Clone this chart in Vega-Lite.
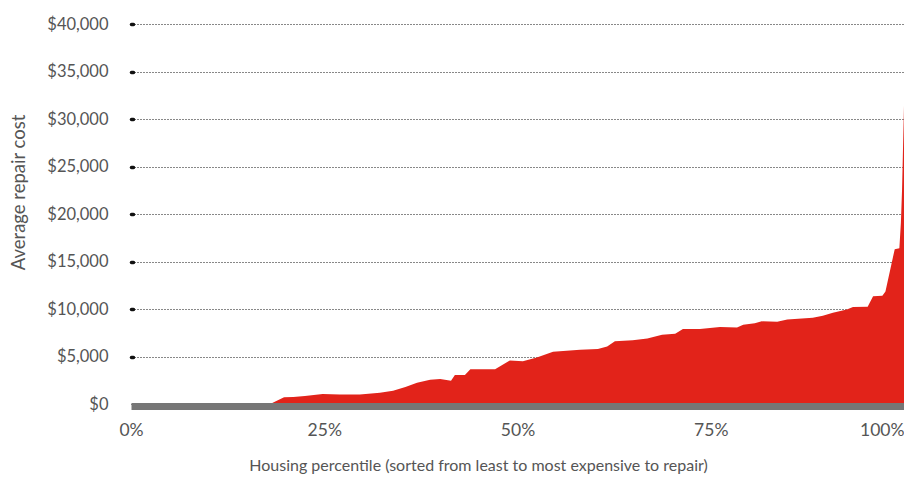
{
  "$schema": "https://vega.github.io/schema/vega-lite/v6.json",
  "width": 773,
  "height": 380,
  "autosize": {"type": "none"},
  "padding": {"left": 131, "top": 24, "right": 0, "bottom": 76},
  "config": {
    "view": {"stroke": null},
    "font": "Lato"
  },
  "data": {
    "values": [
      {"pct": 0, "cost": 0},
      {"pct": 18.0, "cost": 0},
      {"pct": 19.8, "cost": 720},
      {"pct": 21.0, "cost": 740},
      {"pct": 22.5, "cost": 850},
      {"pct": 24.8, "cost": 1040},
      {"pct": 27.0, "cost": 1010},
      {"pct": 29.6, "cost": 1000},
      {"pct": 32.2, "cost": 1180},
      {"pct": 33.9, "cost": 1400},
      {"pct": 35.5, "cost": 1800},
      {"pct": 37.0, "cost": 2250},
      {"pct": 38.7, "cost": 2550},
      {"pct": 40.0, "cost": 2620},
      {"pct": 41.4, "cost": 2450},
      {"pct": 41.9, "cost": 3060},
      {"pct": 43.2, "cost": 3060},
      {"pct": 43.9, "cost": 3660},
      {"pct": 47.1, "cost": 3660},
      {"pct": 49.0, "cost": 4570},
      {"pct": 50.7, "cost": 4500},
      {"pct": 52.5, "cost": 4900},
      {"pct": 54.6, "cost": 5500},
      {"pct": 58.1, "cost": 5700},
      {"pct": 60.4, "cost": 5800},
      {"pct": 61.6, "cost": 6050},
      {"pct": 62.6, "cost": 6600},
      {"pct": 64.9, "cost": 6700},
      {"pct": 66.8, "cost": 6900},
      {"pct": 68.7, "cost": 7300},
      {"pct": 70.4, "cost": 7400},
      {"pct": 71.4, "cost": 7900},
      {"pct": 73.6, "cost": 7900},
      {"pct": 76.2, "cost": 8100},
      {"pct": 78.4, "cost": 8050},
      {"pct": 79.2, "cost": 8350},
      {"pct": 80.7, "cost": 8500},
      {"pct": 81.6, "cost": 8700},
      {"pct": 83.6, "cost": 8650},
      {"pct": 84.9, "cost": 8900},
      {"pct": 88.2, "cost": 9080},
      {"pct": 89.5, "cost": 9300},
      {"pct": 90.8, "cost": 9600},
      {"pct": 92.6, "cost": 9950},
      {"pct": 93.4, "cost": 10200},
      {"pct": 95.3, "cost": 10250},
      {"pct": 96.0, "cost": 11350},
      {"pct": 97.2, "cost": 11400},
      {"pct": 97.6, "cost": 11850},
      {"pct": 98.8, "cost": 16300},
      {"pct": 99.4, "cost": 16400},
      {"pct": 99.6, "cost": 19100},
      {"pct": 99.75, "cost": 22600},
      {"pct": 99.85, "cost": 26100},
      {"pct": 100, "cost": 31400}
    ]
  },
  "mark": {"type": "area", "color": "#E2231A", "interpolate": "linear"},
  "encoding": {
    "x": {
      "field": "pct",
      "type": "quantitative",
      "scale": {"domain": [0, 100], "nice": false, "zero": true},
      "axis": {
        "values": [0, 25, 50, 75, 100],
        "labelExpr": "datum.value + '%'",
        "labelAlign": {"expr": "datum.value == 100 ? 'right' : 'center'"},
        "labelFlush": false,
        "labelFontSize": 17.5,
        "labelColor": "#555555",
        "labelPadding": 15,
        "ticks": false,
        "grid": false,
        "domain": true,
        "domainColor": "#767676",
        "domainWidth": 7,
        "offset": 2,
        "zindex": 1,
        "title": "Housing percentile (sorted from least to most expensive to repair)",
        "titleFontSize": 16,
        "titleFontWeight": "normal",
        "titleColor": "#555555",
        "titleX": 347,
        "titleY": 59,
        "titleAlign": "center",
        "titleBaseline": "middle"
      }
    },
    "y": {
      "field": "cost",
      "type": "quantitative",
      "scale": {"domain": [0, 40000], "nice": false},
      "axis": {
        "values": [0, 5000, 10000, 15000, 20000, 25000, 30000, 35000, 40000],
        "format": "$,.0f",
        "labelFontSize": 16.5,
        "labelColor": "#555555",
        "labelPadding": 25,
        "domain": false,
        "ticks": true,
        "tickSize": -2,
        "tickWidth": 3.5,
        "tickCap": "round",
        "tickColor": {"condition": {"test": "datum.value == 0", "value": "transparent"}, "value": "#111111"},
        "grid": true,
        "gridDash": [1, 2],
        "gridColor": "#111111",
        "gridWidth": 1,
        "title": "Average repair cost",
        "titleFontSize": 18.5,
        "titleFontWeight": "normal",
        "titleColor": "#555555",
        "titleAngle": 270,
        "titleX": -113,
        "titleY": 168,
        "titleAlign": "center",
        "titleBaseline": "middle"
      }
    }
  }
}
